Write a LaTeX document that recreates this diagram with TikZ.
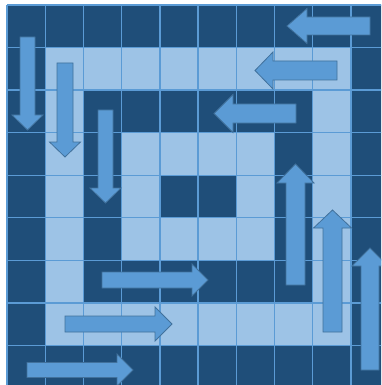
\documentclass[tikz,border=0pt]{standalone}
\definecolor{darkcell}{HTML}{1F4E79}
\definecolor{lightcell}{HTML}{9DC3E6}
\definecolor{gridcol}{HTML}{5B9BD5}
\definecolor{arrowfill}{HTML}{5B9BD5}
\definecolor{arrowline}{HTML}{41719C}
\tikzset{
  blockarrow/.style={fill=arrowfill, draw=arrowline, line width=0.8pt, line join=miter},
  gridlines/.style={draw=gridcol, line width=1.4pt}
}
% vertical arrow: xc, yStart, yBase, yTip, shaft half, head half
\newcommand\myVarrow[6]{\filldraw[blockarrow] ({#1-#5},#2) -- ({#1-#5},#3) -- ({#1-#6},#3) -- (#1,#4) -- ({#1+#6},#3) -- ({#1+#5},#3) -- ({#1+#5},#2) -- cycle;}
% horizontal arrow: yc, xStart, xBase, xTip, shaft half, head half
\newcommand\myHarrow[6]{\filldraw[blockarrow] (#2,{#1-#5}) -- (#3,{#1-#5}) -- (#3,{#1-#6}) -- (#4,#1) -- (#3,{#1+#6}) -- (#3,{#1+#5}) -- (#2,{#1+#5}) -- cycle;}
\begin{document}
\begin{tikzpicture}[x=1pt,y=-1pt]
\useasboundingbox (0,0) rectangle (381,385);
\fill[white] (0,0) rectangle (381,385);
\clip (0,0) rectangle (381,385);
% concentric rings
\fill[darkcell]  (7,5) rectangle (389,387.95);
\fill[lightcell] (45.2,47.55) rectangle (350.8,345.4);
\fill[darkcell]  (83.4,90.1) rectangle (312.6,302.85);
\fill[lightcell] (121.6,132.65) rectangle (274.4,260.3);
\fill[darkcell]  (159.8,175.2) rectangle (236.2,217.75);
% grid lines
\foreach \k in {0,...,10} {
  \draw[gridlines] ({7+38.2*\k},5) -- ({7+38.2*\k},387.95);
}
\foreach \j in {0,...,9} {
  \draw[gridlines] (7,{5+42.55*\j}) -- (389,{5+42.55*\j});
}
% down arrows
\myVarrow{27.5}{37}{115}{130}{7.5}{15.5}
\myVarrow{65}{63}{142}{157}{8}{15.5}
\myVarrow{105.5}{110}{188}{203}{7.5}{15.5}
% left arrows
\myHarrow{26}{370}{307}{287}{9}{17.5}
\myHarrow{70.5}{337}{273}{255}{9.5}{18.5}
\myHarrow{113.5}{296}{233}{214}{9.5}{19}
% right arrows
\myHarrow{280}{102}{192}{208}{8}{16}
\myHarrow{324}{65}{155}{172}{8}{17}
\myHarrow{370}{27}{117}{133}{7.5}{16}
% up arrows
\myVarrow{295.5}{285}{183}{164}{9.5}{18.5}
\myVarrow{332.5}{332}{228}{210}{9.5}{19}
\myVarrow{370}{370}{266}{248}{9}{18}
\end{tikzpicture}
\end{document}
